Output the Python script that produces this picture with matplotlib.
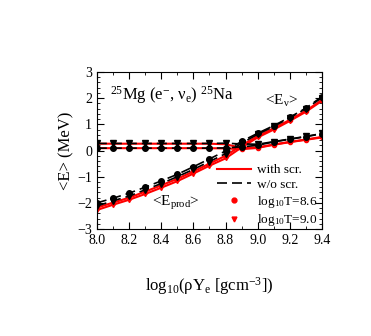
import matplotlib
matplotlib.use('Agg')
import matplotlib.pyplot as plt
from matplotlib.ticker import MultipleLocator

plt.rcParams['font.family'] = ['Liberation Serif', 'DejaVu Serif']
plt.rcParams['mathtext.fontset'] = 'custom'
plt.rcParams['mathtext.rm'] = 'Liberation Serif'
plt.rcParams['mathtext.it'] = 'Liberation Serif:italic'

# log10(rho Ye)
density = [8.0, 8.1, 8.2, 8.3, 8.4, 8.5, 8.6, 8.7, 8.8, 8.9, 9.0, 9.1, 9.2, 9.3, 9.4]

# <E_prod> curves
prod_t86_noscr = [-2.00, -1.82, -1.63, -1.40, -1.16, -0.91, -0.62, -0.32, -0.02, 0.35, 0.66, 0.95, 1.27, 1.62, 2.06]
prod_t90_noscr = [-2.12, -1.92, -1.74, -1.50, -1.26, -1.00, -0.72, -0.42, -0.12, 0.28, 0.62, 0.92, 1.25, 1.60, 2.02]
prod_t86_scr = [-2.18, -1.99, -1.80, -1.57, -1.33, -1.08, -0.80, -0.50, -0.20, 0.20, 0.55, 0.85, 1.17, 1.52, 1.93]
prod_t90_scr = [-2.27, -2.07, -1.88, -1.66, -1.42, -1.17, -0.88, -0.58, -0.30, 0.12, 0.50, 0.80, 1.13, 1.48, 1.90]

# <E_nu> curves
nu_t86_noscr = [0.09, 0.09, 0.09, 0.09, 0.09, 0.09, 0.09, 0.09, 0.10, 0.14, 0.20, 0.33, 0.43, 0.53, 0.64]
nu_t90_noscr = [0.27, 0.27, 0.27, 0.27, 0.27, 0.27, 0.27, 0.27, 0.28, 0.25, 0.24, 0.34, 0.44, 0.54, 0.65]
nu_t86_scr = [0.09, 0.09, 0.09, 0.09, 0.09, 0.09, 0.09, 0.09, 0.08, 0.05, 0.10, 0.22, 0.32, 0.41, 0.50]
nu_t90_scr = [0.26, 0.26, 0.26, 0.26, 0.26, 0.26, 0.26, 0.26, 0.24, 0.10, 0.12, 0.23, 0.33, 0.42, 0.52]

fig = plt.figure(figsize=(3.71, 3.36), dpi=100)
ax = fig.add_axes([0.261, 0.318, 0.607, 0.468])

# red (with screening) first, black dashed on top
series = [
    (prod_t86_scr, 'red', '-', 'o'),
    (prod_t90_scr, 'red', '-', 'v'),
    (nu_t86_scr, 'red', '-', 'o'),
    (nu_t90_scr, 'red', '-', 'v'),
    (prod_t86_noscr, 'k', '--', 'o'),
    (prod_t90_noscr, 'k', '--', 'v'),
    (nu_t86_noscr, 'k', '--', 'o'),
    (nu_t90_noscr, 'k', '--', 'v'),
]
for vals, col, ls, mk in series:
    if ls == '--':
        ax.plot(density, vals, color=col, linestyle='--', dashes=(6, 3), marker=mk,
                markersize=4, linewidth=1.2)
    else:
        ax.plot(density, vals, color=col, linestyle='-', marker=mk,
                markersize=3, linewidth=1.5)

# legend
h1, = ax.plot([], [], color='red', linestyle='-', linewidth=1.5)
h2, = ax.plot([], [], color='k', linestyle='--', dashes=(6, 3), linewidth=1.2)
h3, = ax.plot([], [], color='red', linestyle='none', marker='o', markersize=3.5)
h4, = ax.plot([], [], color='red', linestyle='none', marker='v', markersize=3.5)
ax.legend([h1, h2, h3, h4],
          ['with scr.', 'w/o scr.', r'log$_{10}$T=8.6', r'log$_{10}$T=9.0'],
          loc='lower right', bbox_to_anchor=(1.03, -0.07), frameon=False,
          fontsize=9.5, handlelength=2.6, handletextpad=0.4, labelspacing=0.2)

ax.text(8.08, 2.1, r'$^{25}$Mg (e$^{-}$, $\mathrm{ν_e}$) $^{25}$Na', fontsize=12,
        va='center')
ax.text(9.045, 1.9, r'<E$_\mathrm{ν}$>', fontsize=11, va='center')
ax.text(8.34, -2.0, r'<E$_\mathrm{prod}$>', fontsize=11, va='center')

ax.set_xlim(8.0, 9.4)
ax.set_ylim(-3, 3)
ax.xaxis.set_major_locator(MultipleLocator(0.2))
ax.xaxis.set_minor_locator(MultipleLocator(0.1))
ax.yaxis.set_major_locator(MultipleLocator(1))
ax.yaxis.set_minor_locator(MultipleLocator(0.2))
ax.xaxis.set_major_formatter(plt.FormatStrFormatter('%.1f'))
ax.tick_params(which='both', direction='in', top=True, right=True, labelsize=10)
ax.tick_params(which='major', length=5)
ax.tick_params(which='minor', length=2.5)

ax.set_xlabel(r'log$_{10}$(ρY$_\mathrm{e}$ [gcm$^{-3}$])', fontsize=12, labelpad=20)
ax.set_ylabel('<E> (MeV)', fontsize=12, labelpad=2)

fig.savefig('out.png', dpi=100)
